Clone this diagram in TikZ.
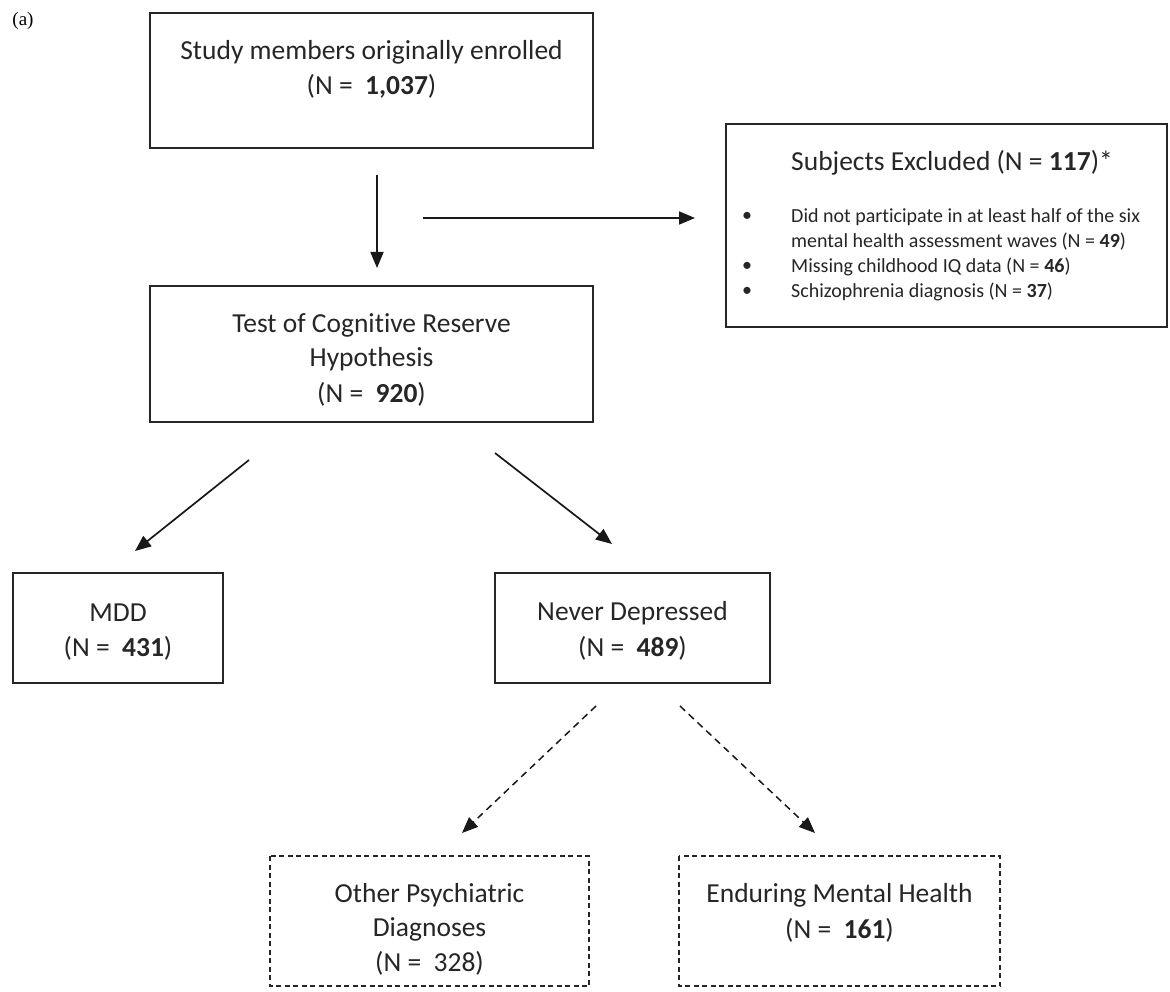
\documentclass[tikz,border=0pt]{standalone}
\usepackage{fontspec}
\setmainfont{Carlito}[Ligatures={NoCommon}]
\newfontfamily\serifa{Liberation Serif}
\usetikzlibrary{arrows.meta}
\begin{document}
\begin{tikzpicture}[x=1pt,y=-1pt,
  box/.style={draw=black!85, line width=1.7pt, fill=none},
  dbox/.style={draw=black!85, line width=1.5pt, dash pattern=on 5pt off 3.5pt},
  txt/.style={font=\fontsize{27.5}{33}\selectfont, text=black!85, inner sep=0pt, anchor=center},
  btxt/.style={font=\fontsize{20}{24.5}\selectfont, text=black!85, inner sep=0pt, anchor=west},
  arr/.style={draw=black!90, line width=1.7pt, -{Triangle[length=16pt,width=13pt]}},
  darr/.style={draw=black!90, line width=1.5pt, dash pattern=on 7pt off 5pt, -{Triangle[length=16pt,width=13pt]}}
]
\useasboundingbox (0,0) rectangle (1170,992);
\fill[white] (0,0) rectangle (1170,992);

\node[font=\serifa\fontsize{19}{21}\selectfont, inner sep=0pt] (lab) at (23,21) {(a)};

% top box
\draw[box] (150,13) rectangle (593,148);
\node (top) at (371.5,80.5) [minimum width=443pt, minimum height=135pt, inner sep=0pt] {};
\node[txt] (t1) at (371.5,52) {Study members originally enrolled};
\node[txt] (t2) at (371.5,86) {(N =\ \ \textbf{1,037})};

% excluded box
\draw[box] (726,124) rectangle (1167,327);
\node (exc) at (946.5,225.5) [minimum width=441pt, minimum height=203pt, inner sep=0pt] {};
\node[txt, anchor=west] (e0) at (791,163) {Subjects Excluded (N = \textbf{117})*};
\node[btxt] (b1) at (742,217) {\textbullet};
\node[btxt] (e1) at (791,217) {Did not participate in at least half of the six};
\node[btxt] (e2) at (791,242) {mental health assessment waves (N = \textbf{49})};
\node[btxt] (b2) at (742,267) {\textbullet};
\node[btxt] (e3) at (791,267) {Missing childhood IQ data (N = \textbf{46})};
\node[btxt] (b3) at (742,292) {\textbullet};
\node[btxt] (e4) at (791,292) {Schizophrenia diagnosis (N = \textbf{37})};

% test box
\draw[box] (150,286) rectangle (593,422);
\node (test) at (371.5,354) [minimum width=443pt, minimum height=136pt, inner sep=0pt] {};
\node[txt] (s1) at (371.5,325) {Test of Cognitive Reserve};
\node[txt] (s2) at (371.5,359.5) {Hypothesis};
\node[txt] (s3) at (371.5,394) {(N =\ \ \textbf{920})};

% MDD box
\draw[box] (13,573) rectangle (223,683);
\node (mdd) at (118,628) [minimum width=210pt, minimum height=110pt, inner sep=0pt] {};
\node[txt] (m1) at (118,613) {MDD};
\node[txt] (m2) at (118,648) {(N =\ \ \textbf{431})};

% Never depressed box
\draw[box] (495,573) rectangle (770,683);
\node (nd) at (632.5,628) [minimum width=275pt, minimum height=110pt, inner sep=0pt] {};
\node[txt] (n1) at (632.5,613) {Never Depressed};
\node[txt] (n2) at (632.5,648) {(N =\ \ \textbf{489})};

% other psychiatric
\draw[dbox] (270,856) rectangle (589,986);
\node (oth) at (429.5,921) [minimum width=319pt, minimum height=130pt, inner sep=0pt] {};
\node[txt] (o1) at (429.5,895) {Other Psychiatric};
\node[txt] (o2) at (429.5,929) {Diagnoses};
\node[txt] (o3) at (429.5,963) {(N =\ \ 328)};

% enduring
\draw[dbox] (679,856) rectangle (1000,986);
\node (end) at (839.5,921) [minimum width=321pt, minimum height=130pt, inner sep=0pt] {};
\node[txt] (d1) at (839.5,895) {Enduring Mental Health};
\node[txt] (d2) at (839.5,930) {(N =\ \ \textbf{161})};

% connectors
\coordinate (a1s) at (377,175); \coordinate (a1e) at (377,268);
\coordinate (a2s) at (423,218); \coordinate (a2e) at (695,218);
\coordinate (a3s) at (249,460); \coordinate (a3e) at (135,551);
\coordinate (a4s) at (495,453); \coordinate (a4e) at (612,544);
\coordinate (a5s) at (596,706); \coordinate (a5e) at (462,833);
\coordinate (a6s) at (680,706); \coordinate (a6e) at (815,833);
\draw[arr] (a1s) -- (a1e);
\draw[arr] (a2s) -- (a2e);
\draw[arr] (a3s) -- (a3e);
\draw[arr] (a4s) -- (a4e);
\draw[darr] (a5s) -- (a5e);
\draw[darr] (a6s) -- (a6e);
\end{tikzpicture}
\end{document}
